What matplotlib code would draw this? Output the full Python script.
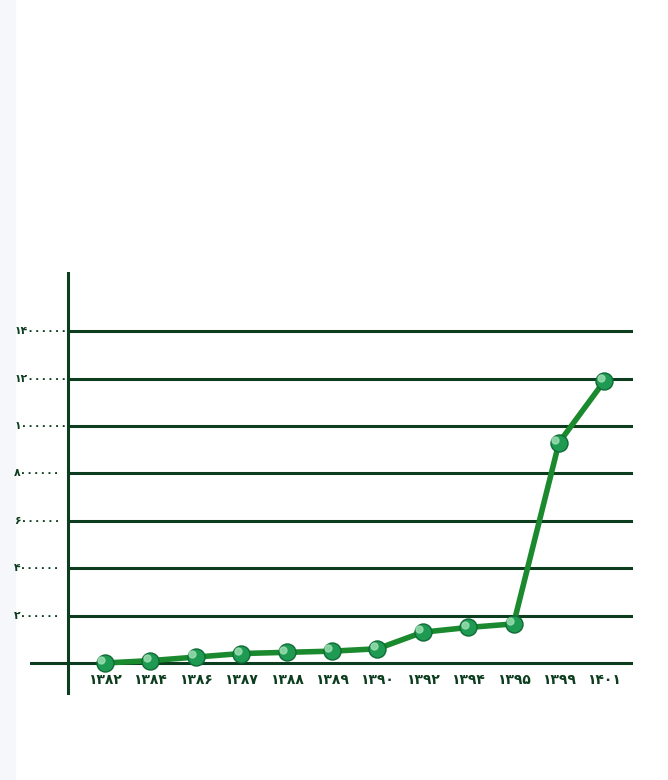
import matplotlib
matplotlib.use("Agg")
import matplotlib.pyplot as plt

years = ["۱۳۸۲","۱۳۸۴","۱۳۸۶","۱۳۸۷","۱۳۸۸","۱۳۸۹","۱۳۹۰","۱۳۹۲","۱۳۹۴","۱۳۹۵","۱۳۹۹","۱۴۰۱"]
values = [0, 100000, 250000, 400000, 450000, 500000, 600000, 1300000, 1500000, 1650000, 9300000, 11900000]
yticks = [2000000, 4000000, 6000000, 8000000, 10000000, 12000000, 14000000]
ytick_labels = ["۲۰۰۰۰۰۰", "۴۰۰۰۰۰۰", "۶۰۰۰۰۰۰", "۸۰۰۰۰۰۰", "۱۰۰۰۰۰۰۰", "۱۲۰۰۰۰۰۰", "۱۴۰۰۰۰۰۰"]

fig = plt.figure(figsize=(6.68, 7.8), dpi=100)
fig.patches.append(plt.Rectangle((0, 0), 15/668, 1, transform=fig.transFigure, color="#f6f7fa", zorder=-5))
ax = fig.add_axes([30/668, 1-695/780, (633-30)/668, (695-272)/780])
ax.set_xlim(-1.65, 11.63)
ax.set_ylim(-1.35e6, 16.5e6)
ax.axis("off")
axis_x = -0.81
for y in yticks:
    ax.hlines(y, axis_x, 11.63, color="#0b3d1e", lw=2.2, zorder=1)
ax.axhline(0, color="#0b3d1e", lw=2.2, zorder=1)
ax.axvline(axis_x, color="#0b3d1e", lw=2.2, zorder=1)
xs = list(range(len(years)))
ax.plot(xs, values, color="#1b8a2e", lw=4, zorder=2)
ax.scatter(xs, values, s=150, color="#1f9a52", edgecolors="#0f6b35", linewidths=1, zorder=3)
ax.scatter([x-0.08 for x in xs], [v+120000 for v in values], s=25, color="#9fe0b5", zorder=4, alpha=0.8)
for x, lab in zip(xs, years):
    ax.text(x, -0.7e6, lab, ha="center", va="center", fontsize=10, fontweight="bold", color="#0b3d1e", zorder=6)
for y, lab in zip(yticks, ytick_labels):
    ax.text(-2.0, y, lab, ha="left", va="center", fontsize=7.8, fontweight="bold",
            color="#0b3d1e", zorder=6, clip_on=False)
fig.savefig("out.png", dpi=100, facecolor="white")
